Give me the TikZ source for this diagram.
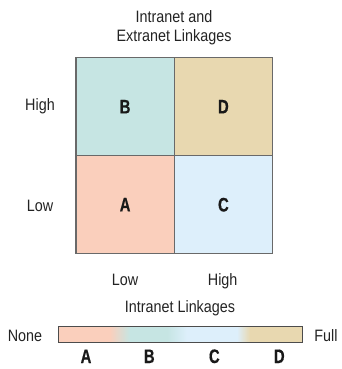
\documentclass[tikz,border=0pt]{standalone}
\usepackage{fontspec}
\setmainfont{Liberation Sans}[FakeStretch=0.87]
\newfontfamily\letterfont{Liberation Sans}[FakeStretch=0.76, BoldFeatures={FakeBold=0.5}]
\definecolor{cA}{RGB}{250,207,188}
\definecolor{cB}{RGB}{198,229,227}
\definecolor{cC}{RGB}{221,239,251}
\definecolor{cD}{RGB}{232,216,176}
\definecolor{edge}{RGB}{105,105,105}
\definecolor{txt}{RGB}{35,35,35}
\pgfdeclarehorizontalshading{barshade}{100bp}{color(0bp)=(cA); color(35.66bp)=(cA); color(39.75bp)=(cB); color(47.34bp)=(cB); color(51.43bp)=(cC); color(61.68bp)=(cC); color(64.34bp)=(cD); color(100bp)=(cD)}
\begin{document}
\begin{tikzpicture}[x=1pt,y=-1pt,
  lbl/.style={font=\fontsize{16.5}{19}\selectfont, text=txt, anchor=base, inner sep=0},
  let/.style={font=\letterfont\bfseries\fontsize{19.5}{22}\selectfont, text=black!90},
  cell/.style={draw=edge, line width=1.3pt, minimum width=98.3pt, minimum height=98pt, inner sep=0}]
\useasboundingbox (0,0) rectangle (341,369);
% cells
\node[cell, fill=cB, let] (B) at (125.1,106.7) {B};
\node[cell, fill=cD, let] (D) at (223.4,106.7) {D};
\node[cell, fill=cA, let] (A) at (125.1,204.7) {A};
\node[cell, fill=cC, let] (C) at (223.4,204.7) {C};
% titles
\node[lbl] (t1) at (174,23) {Intranet and};
\node[lbl] (t2) at (174,41.5) {Extranet Linkages};
\node[lbl] (yh) at (40,110.7) {High};
\node[lbl] (yl) at (40,211.7) {Low};
\node[lbl] (xl) at (125,285) {Low};
\node[lbl] (xh) at (222.7,285) {High};
\node[lbl] (xt) at (180,312.7) {Intranet Linkages};
% bar
\node[draw=black!70, line width=1pt, shading=barshade, minimum width=244pt, minimum height=16pt, inner sep=0] (bar) at (180,334) {};
\node[lbl] (none) at (25,341.7) {None};
\node[lbl] (full) at (326,341.7) {Full};
\node[let, anchor=base, inner sep=0] (la) at (86,363) {A};
\node[let, anchor=base, inner sep=0] (lb) at (149.3,363) {B};
\node[let, anchor=base, inner sep=0] (lc) at (214.3,363) {C};
\node[let, anchor=base, inner sep=0] (ld) at (279.3,363) {D};
\end{tikzpicture}
\end{document}
